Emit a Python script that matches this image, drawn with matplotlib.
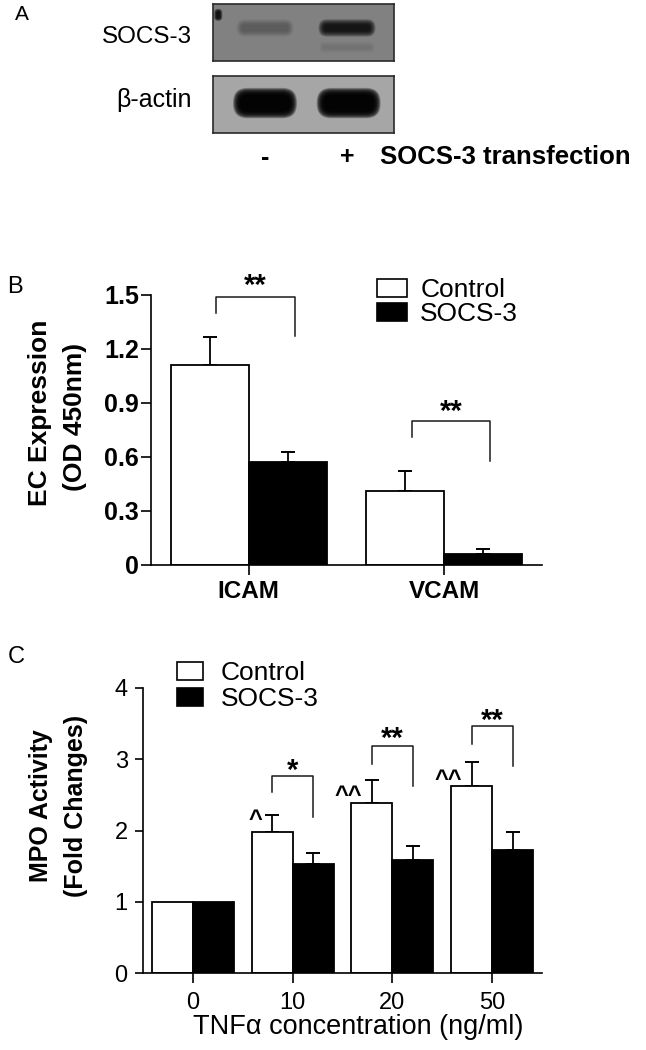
import numpy as np
import matplotlib
matplotlib.use("Agg")
import matplotlib.pyplot as plt
from matplotlib.patches import Patch, FancyBboxPatch

plt.rcParams['font.family'] = ['Liberation Sans', 'DejaVu Sans']

# --- data ---
# panel A: western blot, relative band darkness per lane
lanes = ['-', '+']
socs3_band = [0.24, 0.80]
socs3_lower_band = [0.0, 0.10]
actin_band = [0.97, 0.97]

# panel B: EC expression (OD 450nm)
b_groups = ['ICAM', 'VCAM']
b_control = [1.11, 0.41]
b_control_err = [0.155, 0.11]
b_socs3 = [0.57, 0.062]
b_socs3_err = [0.057, 0.028]
b_sig = ['**', '**']
b_sig_top = [1.63, 0.93]
b_bracket = [(1.40, 1.49, 1.27), (0.71, 0.80, 0.58)]  # left leg end, top, right leg end

# panel C: MPO activity (fold changes)
c_doses = ['0', '10', '20', '50']
c_control = [1.0, 1.98, 2.38, 2.62]
c_control_err = [0.0, 0.24, 0.33, 0.34]
c_socs3 = [1.0, 1.535, 1.58, 1.72]
c_socs3_err = [0.0, 0.155, 0.20, 0.255]
c_sig = ['', '*', '**', '**']
c_sig_top = [np.nan, 3.03, 3.48, 3.73]
c_bracket = [None, (2.54, 2.77, 2.19), (2.94, 3.19, 2.62), (3.22, 3.46, 2.91)]
c_caret = ['', '^', '^^', '^^']
c_caret_top = [np.nan, 2.31, 2.65, 2.88]

W, H = 646, 1050
fig = plt.figure(figsize=(W / 100, H / 100), dpi=100)


def fbox(x0, y0, x1, y1):
    return [x0 / W, 1 - y1 / H, (x1 - x0) / W, (y1 - y0) / H]


def fpt(x, y):
    return x / W, 1 - y / H


def draw_band(ax, x, y, w, h, dark, aspect, n=14, blur=0.1):
    # soft-edged blot band: stacked translucent rounded boxes
    if dark <= 0:
        return
    a = 1 - (1 - dark) ** (1.0 / n)
    for k in range(n):
        pad = blur * k / (n - 1)
        r = min(w, h / aspect) * 0.45
        p = FancyBboxPatch((x - w / 2 - pad, y - h / 2 - pad * aspect), w + 2 * pad, h + 2 * pad * aspect,
                           boxstyle=f"round,pad=0,rounding_size={r + pad}",
                           mutation_aspect=aspect, fc='black', ec='none', alpha=a)
        ax.add_patch(p)


# --- Panel A ---
fig.text(*fpt(22, 15), 'A', fontsize=15, ha='center', va='center')
xl = (-0.634, 1.573)
asp = 82 / 28.5
axt = fig.add_axes(fbox(213, 4, 394, 61))
axa = fig.add_axes(fbox(213, 76, 394, 133))
for ax, bg in [(axt, '#818181'), (axa, '#a6a6a6')]:
    ax.set_facecolor(bg)
    ax.set_xlim(*xl)
    ax.set_ylim(-1, 1)
    ax.tick_params(left=False, labelleft=False, bottom=False, labelbottom=False)
    for s in ax.spines.values():
        s.set_color('#2a2a2a')
        s.set_linewidth(1.2)
for i in range(len(lanes)):
    draw_band(axt, i, 0.16, 0.56, 0.22, socs3_band[i], asp, blur=0.07)
    draw_band(axt, i, -0.52, 0.58, 0.1, socs3_lower_band[i], asp, blur=0.05)
    draw_band(axa, i + 0.02 * i, 0.05, 0.6, 0.55, actin_band[i], asp, blur=0.09)
draw_band(axt, -0.57, 0.62, 0.04, 0.25, 0.85, asp, n=6, blur=0.03)
axa.set_xticks(range(len(lanes)), lanes)
axa.tick_params(labelbottom=True, length=0, pad=9, labelsize=18)
for t in axa.get_xticklabels():
    t.set_fontweight('bold')
axt.text(-0.115, 0.42, 'SOCS-3', transform=axt.transAxes, ha='right', va='center', fontsize=17.5)
axa.text(-0.115, 0.58, 'β-actin', transform=axa.transAxes, ha='right', va='center', fontsize=18)
fig.text(*fpt(380, 157), 'SOCS-3 transfection', fontsize=18.5, fontweight='bold', ha='left', va='center')

# --- Panel B ---
fig.text(*fpt(15, 287), 'B', fontsize=17, ha='center', va='center')
axb = fig.add_axes(fbox(151, 295, 542, 565))
x = np.arange(len(b_groups))
bw = 0.4
axb.bar(x - bw / 2, b_control, bw, color='white', edgecolor='black', linewidth=1.3, zorder=2)
axb.bar(x + bw / 2, b_socs3, bw, color='black', edgecolor='black', linewidth=1.3, zorder=2)
ek = dict(fmt='none', ecolor='black', elinewidth=1.3, capsize=5, capthick=1.4, zorder=1)
axb.errorbar(x - bw / 2, b_control, yerr=[np.zeros(len(x)), b_control_err], **ek)
axb.errorbar(x + bw / 2, b_socs3, yerr=[np.zeros(len(x)), b_socs3_err], **ek)
for i in range(len(b_groups)):
    l, t, r = b_bracket[i]
    x0, x1 = x[i] - bw / 2 + 0.035, x[i] + bw / 2 + 0.035
    axb.plot([x0, x0, x1, x1], [l, t, t, r], color='#1a1a1a', lw=1.1, clip_on=False)
    axb.text((x0 + x1) / 2, b_sig_top[i], b_sig[i], ha='center', va='top', fontsize=21,
             fontweight='bold', clip_on=False)
axb.set_xlim(-0.5, 1.5)
axb.set_ylim(0, 1.5)
axb.set_yticks([0, 0.3, 0.6, 0.9, 1.2, 1.5], ['0', '0.3', '0.6', '0.9', '1.2', '1.5'])
axb.set_xticks(x, b_groups)
axb.tick_params(axis='y', length=7, width=1.2, pad=1.5, labelsize=18)
axb.tick_params(axis='x', length=7, width=1.2, pad=4, labelsize=17.5)
for t in axb.get_xticklabels() + axb.get_yticklabels():
    t.set_fontweight('bold')
for s in ['top', 'right']:
    axb.spines[s].set_visible(False)
for s in ['left', 'bottom']:
    axb.spines[s].set_linewidth(1.2)
fig.text(*fpt(40, 413), 'EC Expression', rotation=90, fontsize=19, fontweight='bold', ha='center', va='center')
fig.text(*fpt(75, 417), '(OD 450nm)', rotation=90, fontsize=19, fontweight='bold', ha='center', va='center')
axb.legend([Patch(fc='white', ec='black', lw=1.2), Patch(fc='black', ec='black', lw=1.2)],
           ['Control', 'SOCS-3'], loc='upper left', bbox_to_anchor=fpt(377, 278),
           bbox_transform=fig.transFigure, frameon=False, fontsize=19, handlelength=1.14,
           handleheight=0.65, handletextpad=0.5, labelspacing=0.0, borderpad=0, borderaxespad=0)

# --- Panel C ---
fig.text(*fpt(16, 657), 'C', fontsize=17, ha='center', va='center')
axc = fig.add_axes(fbox(143, 688, 542, 973))
xc = np.arange(len(c_doses))
cw = 0.41
axc.bar(xc - cw / 2, c_control, cw, color='white', edgecolor='black', linewidth=1.3, zorder=2)
axc.bar(xc + cw / 2, c_socs3, cw, color='black', edgecolor='black', linewidth=1.3, zorder=2)
m = np.array(c_control_err) > 0
axc.errorbar((xc - cw / 2)[m], np.array(c_control)[m], yerr=[np.zeros(m.sum()), np.array(c_control_err)[m]], **ek)
m = np.array(c_socs3_err) > 0
axc.errorbar((xc + cw / 2)[m], np.array(c_socs3)[m], yerr=[np.zeros(m.sum()), np.array(c_socs3_err)[m]], **ek)
for i in range(len(c_doses)):
    if c_bracket[i] is not None:
        l, t, r = c_bracket[i]
        x0, x1 = xc[i] - cw / 2, xc[i] + cw / 2
        axc.plot([x0, x0, x1, x1], [l, t, t, r], color='#1a1a1a', lw=1.1, clip_on=False)
        axc.text((x0 + x1) / 2, c_sig_top[i], c_sig[i], ha='center', va='top', fontsize=21,
                 fontweight='bold', clip_on=False)
    if c_caret[i]:
        axc.text(xc[i] - cw / 2 - 0.1, c_caret_top[i], c_caret[i], ha='right', va='top',
                 fontsize=17, fontweight='bold')
axc.set_xlim(-0.5, 3.5)
axc.set_ylim(0, 4)
axc.set_yticks([0, 1, 2, 3, 4], ['0', '1', '2', '3', '4'])
axc.set_xticks(xc, c_doses)
axc.tick_params(axis='y', length=6, width=1.2, pad=5, labelsize=17)
axc.tick_params(axis='x', length=7, width=1.2, pad=7, labelsize=17)
for s in ['top', 'right']:
    axc.spines[s].set_visible(False)
for s in ['left', 'bottom']:
    axc.spines[s].set_linewidth(1.2)
fig.text(*fpt(41, 806), 'MPO Activity', rotation=90, fontsize=18, fontweight='bold', ha='center', va='center')
fig.text(*fpt(76, 806), '(Fold Changes)', rotation=90, fontsize=18, fontweight='bold', ha='center', va='center')
fig.text(*fpt(358, 1027), 'TNFα concentration (ng/ml)', fontsize=19.5, ha='center', va='center')
axc.legend([Patch(fc='white', ec='black', lw=1.2), Patch(fc='black', ec='black', lw=1.2)],
           ['Control', 'SOCS-3'], loc='upper left', bbox_to_anchor=fpt(177, 661),
           bbox_transform=fig.transFigure, frameon=False, fontsize=19, handlelength=1.0,
           handleheight=0.65, handletextpad=0.65, labelspacing=0.08, borderpad=0, borderaxespad=0)

fig.savefig('out.png', dpi=100)
